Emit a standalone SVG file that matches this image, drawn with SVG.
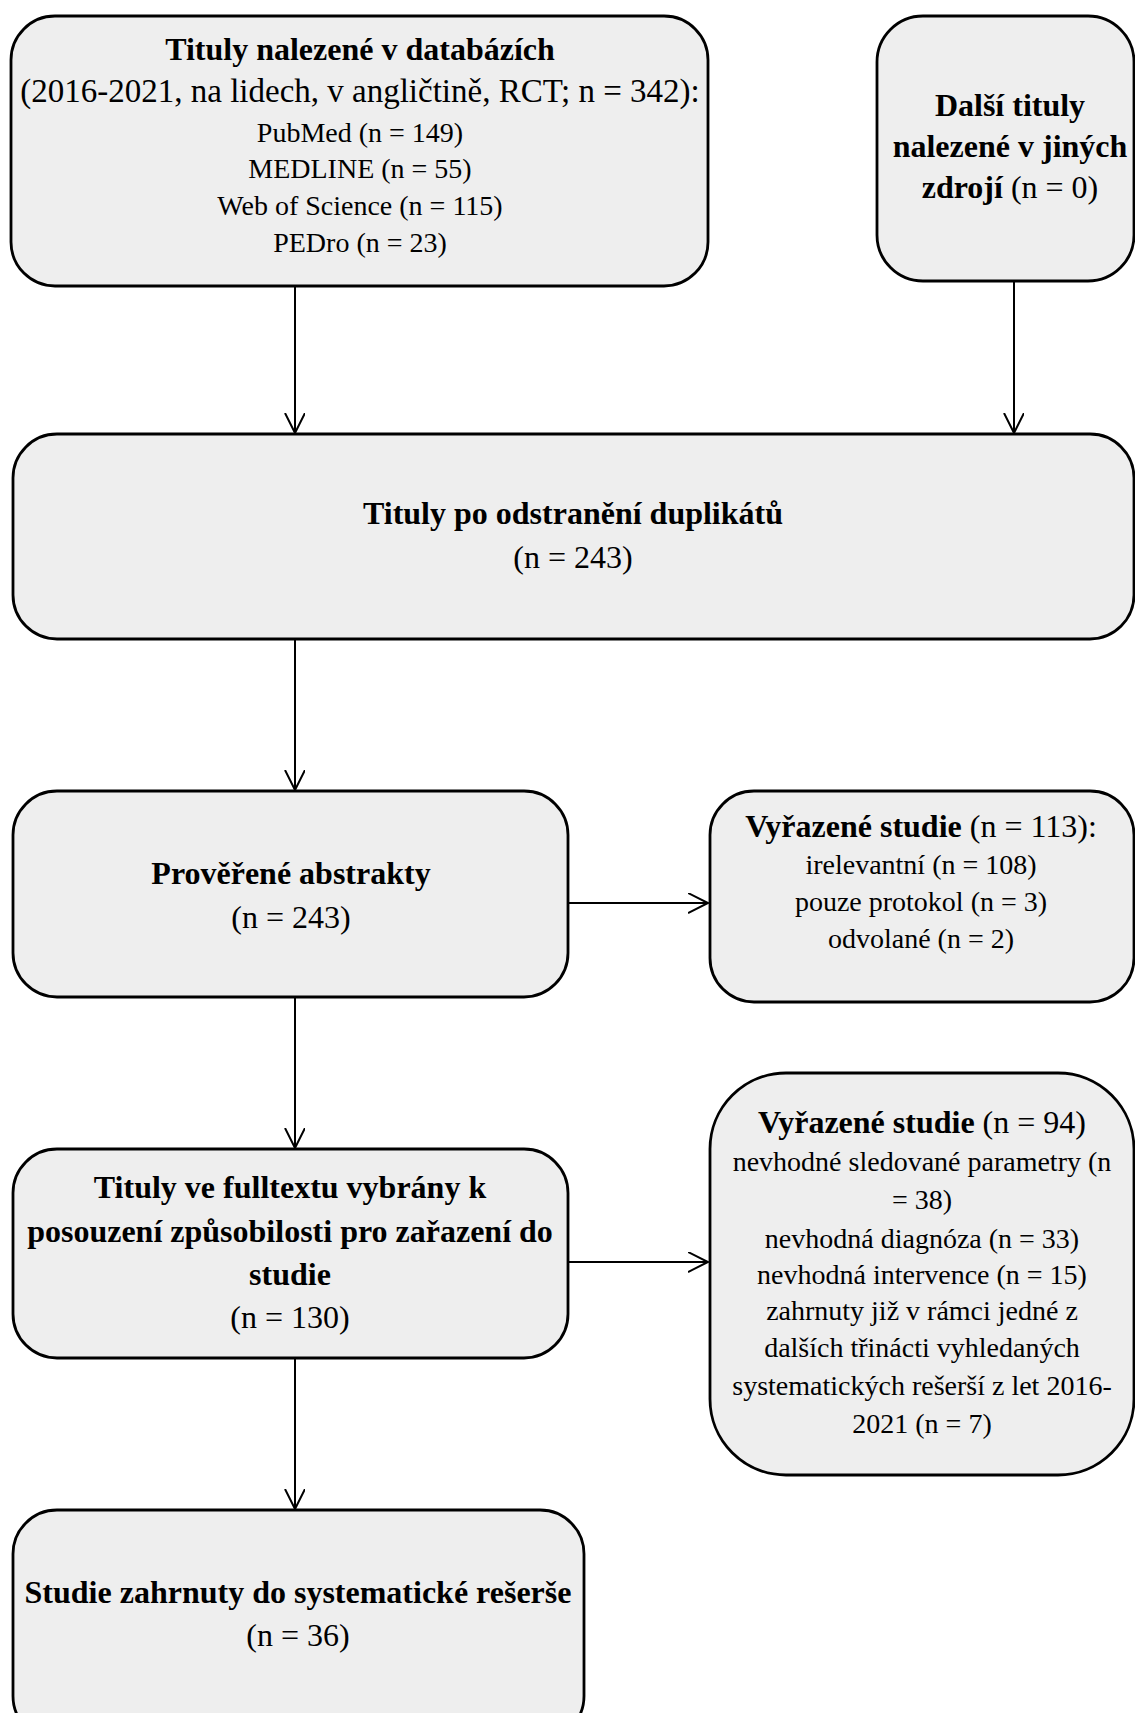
<svg xmlns="http://www.w3.org/2000/svg" width="1135" height="1713" viewBox="0 0 1135 1713">
<defs>
<marker id="ah" markerWidth="24" markerHeight="24" refX="20" refY="10" orient="auto" markerUnits="userSpaceOnUse">
<polyline points="0,0 20,10 0,20" fill="none" stroke="#000" stroke-width="2"/>
</marker>
<style>
.box{fill:#eeeeee;stroke:#000;stroke-width:2.8}
.t{font-family:"Liberation Serif","Times New Roman",serif;fill:#000;text-anchor:middle}
.b{font-weight:bold}
.s32{font-size:32px}
.s33{font-size:33px}
.s28{font-size:28px}
.c{stroke:#000;stroke-width:2;fill:none}
</style>
</defs>
<g id="connectors">
<line class="c" x1="295" y1="287" x2="295" y2="433" marker-end="url(#ah)"/>
<line class="c" x1="1014" y1="281" x2="1014" y2="433" marker-end="url(#ah)"/>
<line class="c" x1="295" y1="639" x2="295" y2="790" marker-end="url(#ah)"/>
<line class="c" x1="569" y1="903" x2="708" y2="903" marker-end="url(#ah)"/>
<line class="c" x1="295" y1="997" x2="295" y2="1148" marker-end="url(#ah)"/>
<line class="c" x1="569" y1="1262" x2="708" y2="1262" marker-end="url(#ah)"/>
<line class="c" x1="295" y1="1358" x2="295" y2="1509" marker-end="url(#ah)"/>
</g>
<g id="n1">
<rect class="box" x="11" y="16" width="697" height="270" rx="44"/>
<text class="t b s32" x="360" y="60">Tituly nalezené v databázích</text>
<text class="t s33" x="360" y="102">(2016-2021, na lidech, v angličtině, RCT; n = 342):</text>
<text class="t s28" x="360" y="142">PubMed (n = 149)</text>
<text class="t s28" x="360" y="178">MEDLINE (n = 55)</text>
<text class="t s28" x="360" y="215">Web of Science (n = 115)</text>
<text class="t s28" x="360" y="252">PEDro (n = 23)</text>
</g>
<g id="n2">
<rect class="box" x="877" y="16" width="257" height="265" rx="46"/>
<text class="t b s32" x="1010" y="116">Další tituly</text>
<text class="t b s32" x="1010" y="157">nalezené v jiných</text>
<text class="t s32" x="1010" y="198"><tspan class="b">zdrojí</tspan> (n = 0)</text>
</g>
<g id="n3">
<rect class="box" x="13" y="434" width="1121" height="205" rx="44"/>
<text class="t b s32" x="573" y="524">Tituly po odstranění duplikátů</text>
<text class="t s32" x="573" y="568">(n = 243)</text>
</g>
<g id="n4">
<rect class="box" x="13" y="791" width="555" height="206" rx="44"/>
<text class="t b s32" x="291" y="884">Prověřené abstrakty</text>
<text class="t s32" x="291" y="928">(n = 243)</text>
</g>
<g id="n5">
<rect class="box" x="710" y="791" width="424" height="211" rx="44"/>
<text class="t s32" x="921" y="837"><tspan class="b">Vyřazené studie</tspan> (n = 113):</text>
<text class="t s28" x="921" y="874">irelevantní (n = 108)</text>
<text class="t s28" x="921" y="911">pouze protokol (n = 3)</text>
<text class="t s28" x="921" y="948">odvolané (n = 2)</text>
</g>
<g id="n6">
<rect class="box" x="13" y="1149" width="555" height="209" rx="44"/>
<text class="t b s32" x="290" y="1198">Tituly ve fulltextu vybrány k</text>
<text class="t b s32" x="290" y="1242">posouzení způsobilosti pro zařazení do</text>
<text class="t b s32" x="290" y="1285">studie</text>
<text class="t s32" x="290" y="1328">(n = 130)</text>
</g>
<g id="n7">
<rect class="box" x="710" y="1073" width="424" height="402" rx="76"/>
<text class="t s32" x="922" y="1133"><tspan class="b">Vyřazené studie</tspan> (n = 94)</text>
<text class="t s28" x="922" y="1171">nevhodné sledované parametry (n</text>
<text class="t s28" x="922" y="1209">= 38)</text>
<text class="t s28" x="922" y="1248">nevhodná diagnóza (n = 33)</text>
<text class="t s28" x="922" y="1284">nevhodná intervence (n = 15)</text>
<text class="t s28" x="922" y="1320">zahrnuty již v rámci jedné z</text>
<text class="t s28" x="922" y="1357">dalších třinácti vyhledaných</text>
<text class="t s28" x="922" y="1395">systematických rešerší z let 2016-</text>
<text class="t s28" x="922" y="1433">2021 (n = 7)</text>
</g>
<g id="n8">
<rect class="box" x="13" y="1510" width="571" height="230" rx="44"/>
<text class="t b s32" x="298" y="1603">Studie zahrnuty do systematické rešerše</text>
<text class="t s32" x="298" y="1646">(n = 36)</text>
</g>
</svg>
